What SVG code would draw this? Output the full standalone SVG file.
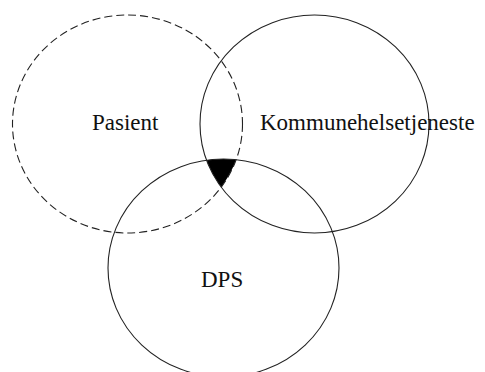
<svg xmlns="http://www.w3.org/2000/svg" width="485" height="372" viewBox="0 0 485 372">
<style>
.c{fill:none;stroke:#222;stroke-width:1.1}
.d{stroke-dasharray:8 4}
.t{font-family:"Liberation Serif","Times New Roman",serif;font-size:23px;fill:#111}
</style>
<defs>
<clipPath id="cp"><ellipse cx="127.5" cy="124" rx="115" ry="109"/></clipPath>
<clipPath id="ck"><ellipse cx="314.5" cy="124" rx="114.5" ry="109"/></clipPath>
</defs>
<rect width="485" height="372" fill="#fff"/>
<g id="overlap">
<g clip-path="url(#cp)"><g clip-path="url(#ck)"><ellipse cx="223.5" cy="268" rx="115.5" ry="109" fill="#000"/></g></g>
</g>
<g id="pasient">
<ellipse class="c d" cx="127.5" cy="124" rx="115" ry="109"/>
<text class="t" x="92" y="129.5">Pasient</text>
</g>
<g id="kommune">
<ellipse class="c" cx="314.5" cy="124" rx="114.5" ry="109"/>
<text class="t" x="260" y="129.5">Kommunehelsetjeneste</text>
</g>
<g id="dps">
<ellipse class="c" cx="223.5" cy="268" rx="115.5" ry="109"/>
<text class="t" x="201" y="287">DPS</text>
</g>
</svg>
